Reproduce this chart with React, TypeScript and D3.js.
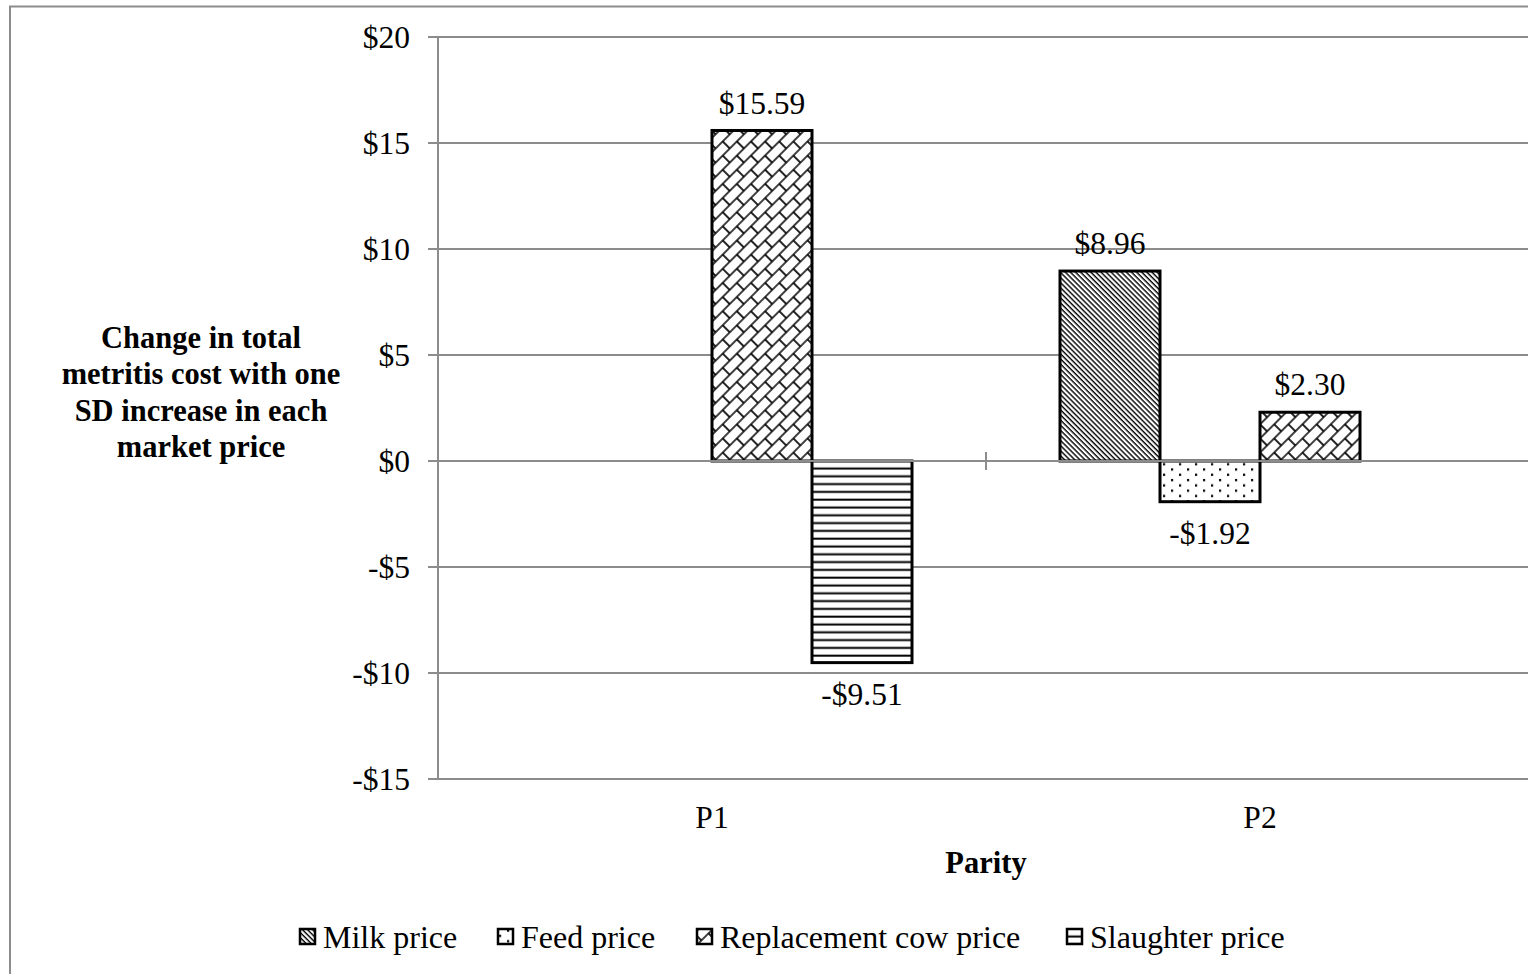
import React from "react";
import * as d3 from "d3";

// Parity groups and the market prices varied for each
const categories = ["P1", "P2"];
const seriesNames = ["Milk price", "Feed price", "Replacement cow price", "Slaughter price"];

// Change in total metritis cost ($) per one-SD increase, by parity
const milkPrice = [0, 8.96];
const feedPrice = [0, -1.92];
const replacementCowPrice = [15.59, 2.3];
const slaughterPrice = [-9.51, 0];

const yTicks = [-15, -10, -5, 0, 5, 10, 15, 20];
const yTitleLines = ["Change in total", "metritis cost with one", "SD increase in each", "market price"];

const seriesValues = [milkPrice, feedPrice, replacementCowPrice, slaughterPrice];
const patternIds = ["pat-milk", "pat-feed", "pat-repl", "pat-slaughter"];

const W = 1528;
const H = 974;
const FONT = "'Liberation Serif', 'Times New Roman', serif";
const GRID = "#8c8c8c";

function fmt(v: number) {
  const s = "$" + Math.abs(v).toFixed(2);
  return v < 0 ? "-" + s : s;
}
function fmtTick(v: number) {
  return v < 0 ? "-$" + Math.abs(v) : "$" + v;
}

export default function App() {
  const plotLeft = 438;
  const plotRight = 1534;
  const y = d3.scaleLinear().domain([-15, 20]).range([779, 37]);
  const x0 = d3.scaleBand<string>().domain(categories).range([plotLeft, plotRight]);
  const x1 = d3
    .scaleBand<string>()
    .domain(seriesNames)
    .range([0, x0.bandwidth()])
    .paddingInner(0)
    .paddingOuter(0.74);

  const fs = 31.5;
  const legendFs = 32;

  const legendItems = [
    { x: 300, name: seriesNames[0], pat: patternIds[0] },
    { x: 498, name: seriesNames[1], pat: patternIds[1] },
    { x: 697, name: seriesNames[2], pat: patternIds[2] },
    { x: 1067, name: seriesNames[3], pat: patternIds[3] },
  ];

  return (
    <svg
      width={W}
      height={H}
      style={{ position: "absolute", left: 0, top: 0, background: "#fff" }}
      fontFamily={FONT}
    >
      <defs>
        {/* dark downward diagonal */}
        <pattern id="pat-milk" patternUnits="userSpaceOnUse" width={10} height={3.6} patternTransform="rotate(45)">
          <rect width={10} height={3.6} fill="#fff" />
          <rect y={0} width={10} height={1.4} fill="#000" />
        </pattern>
        {/* sparse dots */}
        <pattern id="pat-feed" patternUnits="userSpaceOnUse" width={16} height={10.6}>
          <rect width={16} height={10.6} fill="#fff" />
          <rect x={3} y={2} width={2.2} height={2.2} fill="#000" />
          <rect x={11} y={7.3} width={2.2} height={2.2} fill="#000" />
        </pattern>
        {/* shingle / diagonal brick */}
        <pattern id="pat-repl" patternUnits="userSpaceOnUse" width={20} height={20} patternTransform="rotate(-45)">
          <rect width={20} height={20} fill="#fff" />
          <path d="M0,1 H20 M0,11 H20 M1,1 V11 M11,11 V21 M11,-9 V1" stroke="#000" strokeWidth={1.7} fill="none" />
        </pattern>
        {/* horizontal lines */}
        <pattern id="pat-slaughter" patternUnits="userSpaceOnUse" width={10} height={7.8} y={462}>
          <rect width={10} height={7.8} fill="#fff" />
          <rect y={5.5} width={10} height={2} fill="#000" />
        </pattern>
      </defs>

      {/* chart area border */}
      <rect x={10} y={6.5} width={W + 20} height={H + 20} fill="none" stroke={GRID} strokeWidth={2} />

      {/* gridlines and y tick labels */}
      {yTicks.map((t) => (
        <g key={t}>
          <line x1={plotLeft - 10} x2={plotRight} y1={y(t)} y2={y(t)} stroke={GRID} strokeWidth={2} />
          <text x={410} y={y(t)} dy="0.35em" textAnchor="end" fontSize={fs} fill="#000">
            {fmtTick(t)}
          </text>
        </g>
      ))}
      <line x1={plotLeft} x2={plotLeft} y1={y(20)} y2={y(-15)} stroke={GRID} strokeWidth={2} />

      {/* bars */}
      {categories.map((c, ci) =>
        seriesNames.map((s, si) => {
          const v = seriesValues[si][ci];
          if (v === 0) return null;
          const bx = (x0(c) as number) + (x1(s) as number);
          const top = y(Math.max(v, 0));
          const bottom = y(Math.min(v, 0));
          return (
            <rect
              key={c + s}
              x={bx}
              y={top}
              width={x1.bandwidth()}
              height={bottom - top}
              fill={`url(#${patternIds[si]})`}
              stroke="#000"
              strokeWidth={3}
            />
          );
        })
      )}

      {/* category axis at zero */}
      <line x1={plotLeft} x2={plotRight} y1={y(0)} y2={y(0)} stroke={GRID} strokeWidth={2} />
      {[plotLeft, (x0("P2") as number), plotRight].map((tx) => (
        <line key={tx} x1={tx} x2={tx} y1={y(0) - 9} y2={y(0) + 9} stroke={GRID} strokeWidth={2} />
      ))}

      {/* value labels */}
      {categories.map((c, ci) =>
        seriesNames.map((s, si) => {
          const v = seriesValues[si][ci];
          if (v === 0) return null;
          const cx = (x0(c) as number) + (x1(s) as number) + x1.bandwidth() / 2;
          const ly = v > 0 ? y(v) - 28 : y(v) + 31;
          return (
            <text key={"l" + c + s} x={cx} y={ly} dy="0.35em" textAnchor="middle" fontSize={fs} fill="#000">
              {fmt(v)}
            </text>
          );
        })
      )}

      {/* category labels */}
      {categories.map((c) => (
        <text
          key={"c" + c}
          x={(x0(c) as number) + x0.bandwidth() / 2}
          y={817}
          dy="0.35em"
          textAnchor="middle"
          fontSize={fs}
          fill="#000"
        >
          {c}
        </text>
      ))}

      {/* axis titles */}
      <text x={986} y={862} dy="0.35em" textAnchor="middle" fontSize={30.5} fontWeight="bold" fill="#000">
        Parity
      </text>
      {yTitleLines.map((line, i) => (
        <text
          key={line}
          x={201}
          y={337 + i * 36.5}
          dy="0.35em"
          textAnchor="middle"
          fontSize={30.5}
          fontWeight="bold"
          fill="#000"
        >
          {line}
        </text>
      ))}

      {/* legend */}
      {legendItems.map((it) => (
        <g key={it.name}>
          <rect x={it.x} y={929} width={15} height={15} fill={`url(#${it.pat})`} stroke="#000" strokeWidth={2.5} />
          <text x={it.x + 23} y={937} dy="0.35em" fontSize={legendFs} fill="#000">
            {it.name}
          </text>
        </g>
      ))}
    </svg>
  );
}
